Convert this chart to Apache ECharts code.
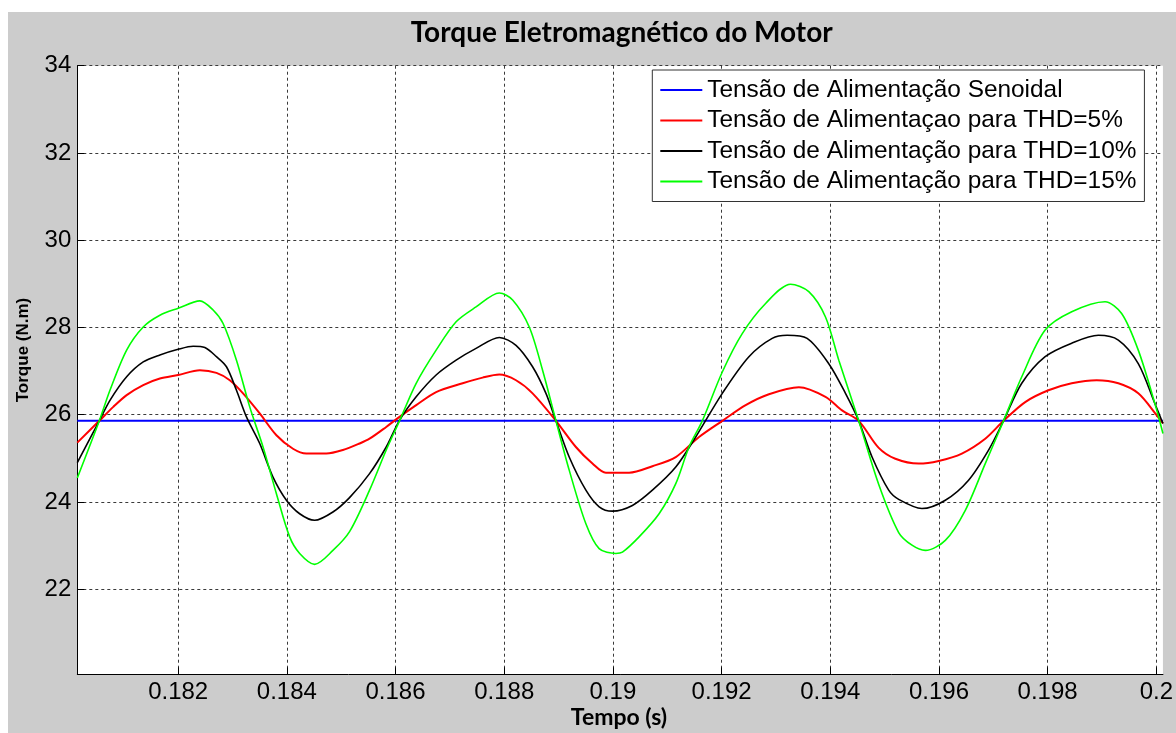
<!DOCTYPE html>
<html>
<head>
<meta charset="utf-8">
<script src="https://cdn.jsdelivr.net/npm/echarts@6/dist/echarts.min.js"></script>
<style>
  html, body { margin: 0; padding: 0; background: #ffffff; }
  #chart { position: absolute; left: 8px; top: 12px; width: 1168px; height: 721px; }
</style>
</head>
<body>
<div id="chart"></div>
<script>
// Time window of the plot (s)
const tempoMin = 0.180144;
const tempoMax = 0.200122;

// Tick positions
const xTicks = [0.182, 0.184, 0.186, 0.188, 0.19, 0.192, 0.194, 0.196, 0.198, 0.2];
const yTicks = [22, 24, 26, 28, 30, 32, 34];

// Series names
const nomes = [
  'Tensão de Alimentação Senoidal',
  'Tensão de Alimentaçao para THD=5%',
  'Tensão de Alimentação para THD=10%',
  'Tensão de Alimentação para THD=15%'
];

// Torque (N.m) vs time (s)
const senoidal = [[tempoMin, 25.86], [tempoMax, 25.86]];

const thd5 = [
  [0.180144, 25.36], [0.180549, 25.86], [0.180806, 26.18], [0.181052, 26.45], [0.181357, 26.68],
  [0.181664, 26.83], [0.182000, 26.91], [0.182399, 27.02], [0.182705, 26.96], [0.182950, 26.79],
  [0.183194, 26.49], [0.183501, 26.03], [0.183808, 25.53], [0.184113, 25.22], [0.184359, 25.11],
  [0.184726, 25.11], [0.185031, 25.19], [0.185338, 25.34], [0.185522, 25.45], [0.185829, 25.72],
  [0.186073, 25.95], [0.186380, 26.22], [0.186747, 26.52], [0.187236, 26.72], [0.187603, 26.85],
  [0.187910, 26.92], [0.188217, 26.79], [0.188522, 26.49], [0.188952, 25.86], [0.189319, 25.26],
  [0.189624, 24.88], [0.189871, 24.67], [0.190299, 24.67], [0.190727, 24.82], [0.191157, 25.03],
  [0.191585, 25.49], [0.192013, 25.86], [0.192443, 26.22], [0.192871, 26.47], [0.193422, 26.63],
  [0.193912, 26.41], [0.194217, 26.10], [0.194524, 25.86], [0.194892, 25.24], [0.195198, 24.99],
  [0.195627, 24.88], [0.195994, 24.94], [0.196422, 25.11], [0.196852, 25.45], [0.197188, 25.86],
  [0.197587, 26.29], [0.198015, 26.56], [0.198443, 26.72], [0.198902, 26.79], [0.199301, 26.72],
  [0.199668, 26.49], [0.200005, 25.99], [0.200122, 25.80]
];

const thd10 = [
  [0.180144, 24.90], [0.180549, 25.86], [0.180745, 26.33], [0.181052, 26.87], [0.181357, 27.21],
  [0.181664, 27.37], [0.182000, 27.50], [0.182276, 27.57], [0.182491, 27.54], [0.182705, 27.33],
  [0.182889, 27.10], [0.183073, 26.56], [0.183257, 25.95], [0.183501, 25.34], [0.183745, 24.57],
  [0.183992, 24.04], [0.184236, 23.73], [0.184511, 23.58], [0.184848, 23.77], [0.185154, 24.10],
  [0.185522, 24.65], [0.185829, 25.26], [0.186073, 25.87], [0.186380, 26.41], [0.186747, 26.91],
  [0.187115, 27.25], [0.187482, 27.52], [0.187910, 27.77], [0.188217, 27.59], [0.188522, 27.10],
  [0.188768, 26.49], [0.188952, 25.86], [0.189196, 25.03], [0.189503, 24.27], [0.189747, 23.89],
  [0.189992, 23.79], [0.190359, 23.92], [0.190727, 24.27], [0.191157, 24.80], [0.191524, 25.49],
  [0.192013, 26.49], [0.192503, 27.33], [0.192931, 27.75], [0.193207, 27.82], [0.193574, 27.75],
  [0.193973, 27.17], [0.194280, 26.49], [0.194524, 25.86], [0.194769, 25.03], [0.195075, 24.27],
  [0.195259, 24.06], [0.195687, 23.85], [0.196117, 24.04], [0.196545, 24.50], [0.196913, 25.19],
  [0.197188, 25.86], [0.197524, 26.72], [0.197954, 27.33], [0.198443, 27.64], [0.198933, 27.82],
  [0.199301, 27.71], [0.199668, 27.17], [0.199975, 26.25], [0.200122, 25.80]
];

const thd15 = [
  [0.180144, 24.55], [0.180549, 25.86], [0.180745, 26.56], [0.181052, 27.48], [0.181357, 28.01],
  [0.181664, 28.28], [0.182000, 28.44], [0.182399, 28.61], [0.182643, 28.40], [0.182827, 28.09],
  [0.183073, 27.25], [0.183317, 26.18], [0.183562, 25.26], [0.183808, 24.19], [0.184052, 23.20],
  [0.184236, 22.82], [0.184511, 22.57], [0.184848, 22.89], [0.185154, 23.32], [0.185522, 24.27],
  [0.185829, 25.19], [0.186073, 25.86], [0.186380, 26.72], [0.186747, 27.48], [0.187115, 28.13],
  [0.187482, 28.47], [0.187910, 28.79], [0.188155, 28.63], [0.188461, 28.01], [0.188706, 27.02],
  [0.188952, 25.86], [0.189196, 24.73], [0.189503, 23.50], [0.189747, 22.93], [0.190054, 22.82],
  [0.190176, 22.85], [0.190482, 23.20], [0.190850, 23.73], [0.191157, 24.42], [0.191401, 25.26],
  [0.191645, 25.86], [0.192013, 26.98], [0.192380, 27.86], [0.192810, 28.55], [0.193269, 28.99],
  [0.193605, 28.82], [0.193912, 28.24], [0.194157, 27.25], [0.194524, 25.86], [0.194892, 24.40],
  [0.195259, 23.30], [0.195504, 23.01], [0.195750, 22.89], [0.196117, 23.12], [0.196485, 23.81],
  [0.196852, 24.88], [0.197188, 25.86], [0.197524, 26.87], [0.197954, 27.94], [0.198443, 28.36],
  [0.199056, 28.59], [0.199362, 28.32], [0.199668, 27.48], [0.199975, 26.25], [0.200122, 25.57]
];

const cores = ['#0000ff', '#ff0000', '#000000', '#00ff00'];
const larguras = [2, 2, 1.6, 1.6];
const dados = [senoidal, thd5, thd10, thd15];

const chart = echarts.init(document.getElementById('chart'), null, { renderer: 'canvas' });

const fonteEixo = 'Liberation Sans, Arial, sans-serif';
const fonteTitulo = 'Lato, sans-serif';

const gridLine = { show: true, lineStyle: { color: '#3a3a3a', width: 1, type: [3, 3] } };

chart.setOption({
  backgroundColor: '#cccccc',
  animation: false,
  grid: {
    left: 69.3, top: 53.7, right: 11.3, bottom: 58.7,
    show: true, backgroundColor: '#ffffff', borderWidth: 0
  },
  legend: {
    data: nomes,
    orient: 'vertical',
    left: 644.3,
    top: 58,
    padding: [8, 8, 8, 8],
    itemGap: 6.5,
    itemWidth: 42,
    itemHeight: 2,
    icon: 'rect',
    backgroundColor: '#ffffff',
    borderColor: '#333333',
    borderWidth: 1,
    textStyle: { fontSize: 24.4, color: '#000000', fontFamily: fonteEixo, lineHeight: 24 }
  },
  xAxis: {
    type: 'value',
    min: tempoMin,
    max: tempoMax,
    axisLine: { show: true, onZero: false, lineStyle: { color: '#000000', width: 1 } },
    axisTick: { show: true, inside: true, length: 7, customValues: xTicks, lineStyle: { color: '#000000' } },
    axisLabel: {
      customValues: xTicks,
      margin: 6,
      fontSize: 24,
      color: '#000000',
      fontFamily: fonteEixo,
      formatter: v => String(parseFloat(v.toFixed(3)))
    },
    splitLine: gridLine
  },
  yAxis: {
    type: 'value',
    min: 20.05,
    max: 34,
    axisLine: { show: true, onZero: false, lineStyle: { color: '#000000', width: 1 } },
    axisTick: { show: true, inside: true, length: 7, customValues: yTicks, lineStyle: { color: '#000000' } },
    axisLabel: {
      customValues: yTicks,
      margin: 6,
      fontSize: 24,
      color: '#000000',
      fontFamily: fonteEixo,
      formatter: v => String(Math.round(v))
    },
    splitLine: gridLine
  },
  series: dados.map((d, i) => ({
    name: nomes[i],
    type: 'line',
    data: d,
    showSymbol: false,
    symbol: 'none',
    smooth: 0.3,
    color: cores[i],
    lineStyle: { color: cores[i], width: larguras[i] },
    z: 2 + i
  })),
  graphic: [
    {
      type: 'text', x: 613.7, y: 21, z: 10,
      style: {
        text: 'Torque Eletromagnético do Motor',
        align: 'center', verticalAlign: 'middle',
        font: 'bold 28px ' + fonteTitulo, fill: '#000000'
      }
    },
    {
      type: 'text', x: 611, y: 706, z: 10,
      style: {
        text: 'Tempo (s)',
        align: 'center', verticalAlign: 'middle',
        font: 'bold 23px ' + fonteTitulo, fill: '#000000'
      }
    },
    {
      type: 'text', x: 15, y: 338, rotation: Math.PI / 2, z: 10,
      style: {
        text: 'Torque (N.m)',
        align: 'center', verticalAlign: 'middle',
        font: 'bold 17px ' + fonteEixo, fill: '#000000'
      }
    }
  ]
});
</script>
</body>
</html>
